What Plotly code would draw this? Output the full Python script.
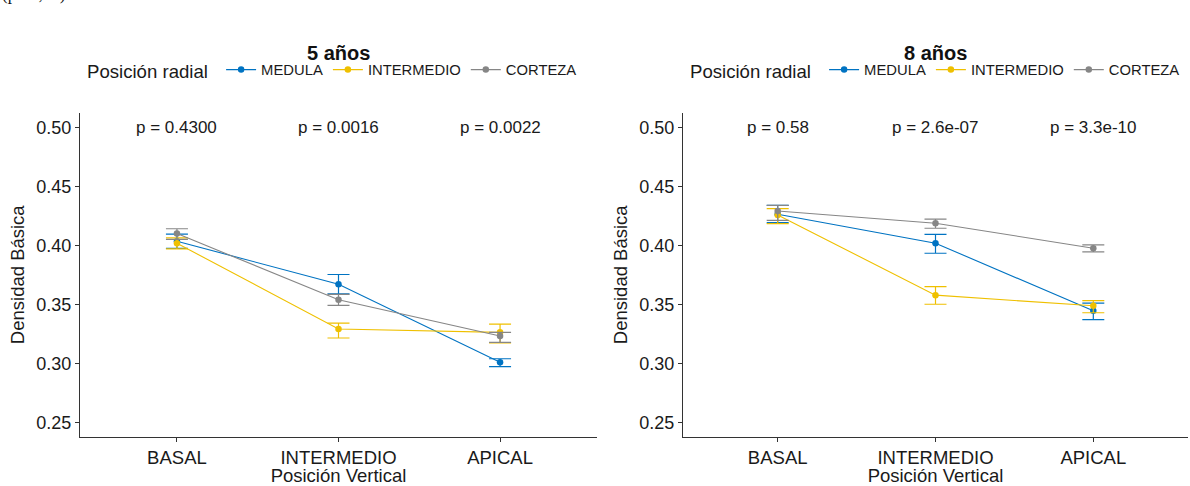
import plotly.graph_objects as go

W, H = 1190, 486

categories = ["BASAL", "INTERMEDIO", "APICAL"]
series_names = ["MEDULA", "INTERMEDIO", "CORTEZA"]
colors = ["#0073C2", "#EFC000", "#868686"]

# 5 años: mean, upper error, lower error
y5_medula = [0.4034, 0.3670, 0.3008]
e5_medula_up = [0.0060, 0.0082, 0.0030]
e5_medula_dn = [0.0060, 0.0082, 0.0036]
y5_inter = [0.4017, 0.3290, 0.3262]
e5_inter_up = [0.0045, 0.0050, 0.0070]
e5_inter_dn = [0.0047, 0.0076, 0.0090]
y5_corteza = [0.4099, 0.3538, 0.3231]
e5_corteza_up = [0.0041, 0.0045, 0.0031]
e5_corteza_dn = [0.0049, 0.0048, 0.0054]

# 8 años
y8_medula = [0.4262, 0.4017, 0.3445]
e8_medula_up = [0.0076, 0.0076, 0.0065]
e8_medula_dn = [0.0070, 0.0085, 0.0076]
y8_inter = [0.4256, 0.3577, 0.3487]
e8_inter_up = [0.0054, 0.0073, 0.0043]
e8_inter_dn = [0.0073, 0.0077, 0.0059]
y8_corteza = [0.4290, 0.4186, 0.3975]
e8_corteza_up = [0.0048, 0.0036, 0.0028]
e8_corteza_dn = [0.0080, 0.0042, 0.0031]

p5_labels = ["p = 0.4300", "p = 0.0016", "p = 0.0022"]
p8_labels = ["p = 0.58", "p = 2.6e-07", "p = 3.3e-10"]
p_label_y = 0.50

panel_titles = ["5 años", "8 años"]
y_ticks = [0.25, 0.30, 0.35, 0.40, 0.45, 0.50]
y_tick_text = ["0.25", "0.30", "0.35", "0.40", "0.45", "0.50"]

FONT = "Liberation Sans, Arial, sans-serif"
AXC = "#333333"
TXT = "#1a1a1a"

fig = go.Figure()

panels = [
    ("x", "y", "legend", [
        (y5_medula, e5_medula_up, e5_medula_dn),
        (y5_inter, e5_inter_up, e5_inter_dn),
        (y5_corteza, e5_corteza_up, e5_corteza_dn)]),
    ("x2", "y2", "legend2", [
        (y8_medula, e8_medula_up, e8_medula_dn),
        (y8_inter, e8_inter_up, e8_inter_dn),
        (y8_corteza, e8_corteza_up, e8_corteza_dn)]),
]

for xa, ya, lg, data in panels:
    for name, col, (vals, up, dn) in zip(series_names, colors, data):
        fig.add_trace(go.Scatter(
            x=categories, y=vals, name=name, mode="lines+markers",
            xaxis=xa, yaxis=ya, legend=lg,
            line=dict(color=col, width=1.1),
            marker=dict(color=col, size=6.5, symbol="circle"),
            error_y=dict(type="data", array=up, arrayminus=dn, symmetric=False,
                         color=col, thickness=1.2, width=11),
        ))

xd1 = [80 / W, 597 / W]
xd2 = [683 / W, 1188 / W]
yd = [1 - 437 / H, 1 - 112.5 / H]

common_x = dict(type="category", range=[-0.6, 2.6], showline=True, linecolor=AXC,
                linewidth=1.2, ticks="outside", ticklen=4, tickcolor=AXC,
                tickfont=dict(size=18.5, color=TXT, family=FONT), showgrid=False,
                zeroline=False, categoryorder="array", categoryarray=categories,
                title=dict(text="Posición Vertical", font=dict(size=18.5, color=TXT, family=FONT), standoff=0))
common_y = dict(range=[0.2375, 0.5125], showline=True, linecolor=AXC, linewidth=1.2,
                ticks="outside", ticklen=4, tickcolor=AXC, tickvals=y_ticks, ticktext=y_tick_text,
                tickfont=dict(size=18, color=TXT, family=FONT), showgrid=False, zeroline=False,
                title=dict(text="Densidad Básica", font=dict(size=18.5, color=TXT, family=FONT), standoff=6))

legend_common = dict(orientation="h", xanchor="left", y=1 - 71 / H, yanchor="middle",
                     font=dict(size=14.8, family=FONT, color=TXT), itemwidth=30, tracegroupgap=0,
                     bgcolor="rgba(0,0,0,0)")

fig.update_layout(
    width=W, height=H, margin=dict(l=0, r=0, t=0, b=0),
    paper_bgcolor="white", plot_bgcolor="white",
    font=dict(family=FONT, color=TXT),
    xaxis=dict(domain=xd1, anchor="y", **common_x),
    yaxis=dict(domain=yd, anchor="x", **common_y),
    xaxis2=dict(domain=xd2, anchor="y2", **common_x),
    yaxis2=dict(domain=yd, anchor="x2", **common_y),
    legend=dict(x=85 / W,
                title=dict(text="Posición radial ", font=dict(size=18.6, family=FONT, color=TXT), side="left"),
                **legend_common),
    legend2=dict(x=688 / W,
                 title=dict(text="Posición radial ", font=dict(size=18.6, family=FONT, color=TXT), side="left"),
                 **legend_common),
    showlegend=True,
)

annotations = []
for title, (a, b) in zip(panel_titles, [xd1, xd2]):
    annotations.append(dict(text="<b>" + title + "</b>", x=(a + b) / 2, y=1 - 53 / H, xref="paper", yref="paper",
                            showarrow=False, xanchor="center", yanchor="middle",
                            font=dict(size=20, family=FONT, color="#111111")))
for xa, ya, labels in [("x", "y", p5_labels), ("x2", "y2", p8_labels)]:
    for cat, lab in zip(categories, labels):
        annotations.append(dict(text=lab, x=cat, y=p_label_y, xref=xa, yref=ya, showarrow=False,
                                xanchor="center", yanchor="middle",
                                font=dict(size=17, family=FONT, color=TXT)))
annotations.append(dict(text="(p< 0,05).", x=0, y=1 - 6 / H, xref="paper", yref="paper",
                        showarrow=False, xanchor="left", yanchor="bottom",
                        font=dict(size=17, family="Liberation Serif, serif", color="#111111")))
fig.update_layout(annotations=annotations)

fig.write_html("out.html", config={"displayModeBar": False},
               post_script="document.body.style.margin='0px';document.body.style.padding='0px';")
